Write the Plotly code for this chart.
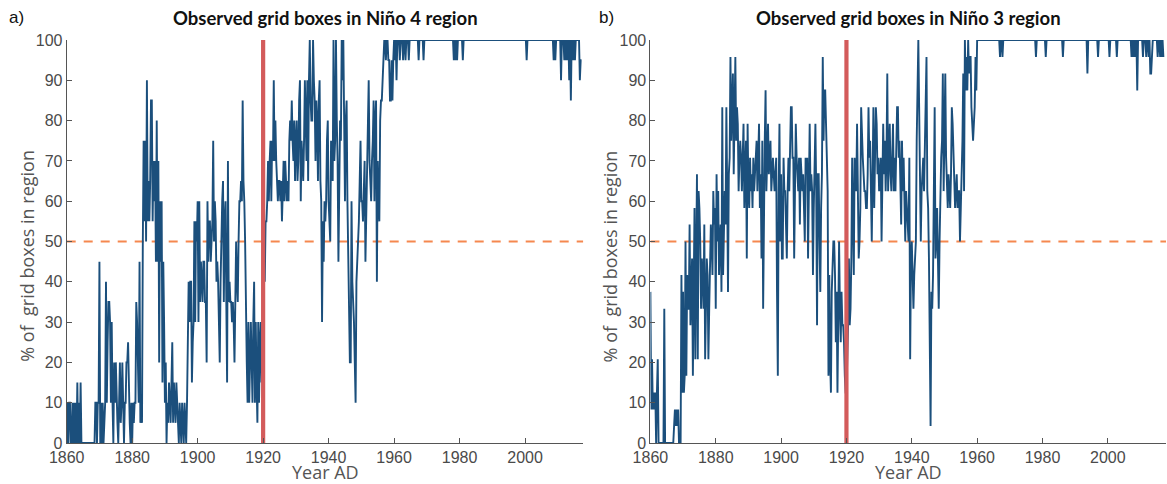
import plotly.graph_objects as go

# ---------------- data (quarterly samples) ----------------
START_YEAR = 1860.0
STEP = 0.25
THRESHOLD = 50
REF_YEAR = 1920
X_RANGE = [1860, 2017.8]
X_TICKS = [1860, 1880, 1900, 1920, 1940, 1960, 1980, 2000]
Y_TICKS = [0, 10, 20, 30, 40, 50, 60, 70, 80, 90, 100]

# Nino 4: % of observed grid boxes, one row per year (Q1..Q4)
NINO4_ROWS = [
    [0, 10, 0, 10],      # 1860
    [10, 0, 0, 10],      # 1861
    [0, 10, 0, 10],      # 1862
    [0, 15, 0, 10],      # 1863
    [0, 15, 0, 0],       # 1864
    [0, 0, 0, 0],        # 1865
    [0, 0, 0, 0],        # 1866
    [0, 0, 0, 0],        # 1867
    [0, 0, 0, 10],       # 1868
    [10, 0, 10, 10],     # 1869
    [45, 0, 10, 0],      # 1870
    [10, 0, 5, 10],      # 1871
    [40, 10, 25, 35],    # 1872
    [35, 30, 10, 30],    # 1873
    [10, 0, 20, 10],     # 1874
    [20, 10, 5, 0],      # 1875
    [10, 20, 5, 10],     # 1876
    [20, 10, 0, 10],     # 1877
    [10, 20, 20, 25],    # 1878
    [10, 5, 0, 10],      # 1879
    [0, 10, 5, 10],      # 1880
    [10, 35, 30, 15],    # 1881
    [10, 45, 5, 10],     # 1882
    [5, 50, 75, 55],     # 1883
    [75, 50, 90, 55],    # 1884
    [65, 55, 65, 85],    # 1885
    [85, 55, 70, 60],    # 1886
    [70, 45, 80, 45],    # 1887
    [70, 20, 60, 45],    # 1888
    [60, 15, 45, 30],    # 1889
    [10, 20, 0, 10],     # 1890
    [5, 15, 10, 5],      # 1891
    [15, 25, 5, 15],     # 1892
    [10, 5, 15, 10],     # 1893
    [5, 0, 10, 5],       # 1894
    [0, 10, 5, 0],       # 1895
    [10, 5, 0, 10],      # 1896
    [35, 40, 30, 40],    # 1897
    [40, 15, 25, 30],    # 1898
    [55, 30, 55, 50],    # 1899
    [60, 30, 60, 35],    # 1900
    [45, 40, 35, 45],    # 1901
    [45, 35, 35, 20],    # 1902
    [60, 45, 55, 55],    # 1903
    [45, 50, 55, 75],    # 1904
    [50, 60, 55, 40],    # 1905
    [45, 40, 30, 20],    # 1906
    [40, 55, 60, 65],    # 1907
    [35, 55, 60, 35],    # 1908
    [15, 70, 35, 40],    # 1909
    [35, 35, 30, 35],    # 1910
    [30, 20, 35, 50],    # 1911
    [40, 35, 50, 60],    # 1912
    [60, 65, 60, 85],    # 1913
    [65, 60, 50, 30],    # 1914
    [20, 10, 30, 10],    # 1915
    [25, 30, 20, 10],    # 1916
    [30, 40, 10, 30],    # 1917
    [15, 5, 30, 10],     # 1918
    [25, 30, 15, 30],    # 1919
    [40, 50, 40, 55],    # 1920
    [55, 60, 70, 60],    # 1921
    [70, 75, 60, 75],    # 1922
    [70, 90, 70, 80],    # 1923
    [70, 65, 60, 65],    # 1924
    [65, 60, 65, 55],    # 1925
    [65, 70, 60, 70],    # 1926
    [65, 60, 65, 60],    # 1927
    [75, 80, 75, 85],    # 1928
    [75, 70, 80, 65],    # 1929
    [75, 80, 65, 70],    # 1930
    [85, 90, 60, 75],    # 1931
    [70, 65, 75, 90],    # 1932
    [80, 70, 90, 65],    # 1933
    [90, 100, 85, 80],   # 1934
    [80, 100, 90, 85],   # 1935
    [70, 85, 80, 65],    # 1936
    [85, 90, 65, 60],    # 1937
    [30, 55, 45, 60],    # 1938
    [55, 60, 75, 80],    # 1939
    [60, 55, 50, 75],    # 1940
    [70, 65, 100, 70],   # 1941
    [75, 100, 80, 70],   # 1942
    [45, 60, 80, 75],    # 1943
    [100, 90, 100, 80],  # 1944
    [60, 80, 85, 60],    # 1945
    [45, 40, 20, 20],    # 1946
    [60, 40, 35, 30],    # 1947
    [20, 10, 40, 45],    # 1948
    [50, 55, 65, 75],    # 1949
    [60, 60, 55, 65],    # 1950
    [70, 45, 55, 65],    # 1951
    [80, 90, 70, 65],    # 1952
    [60, 70, 75, 85],    # 1953
    [60, 80, 85, 40],    # 1954
    [70, 60, 55, 80],    # 1955
    [85, 85, 90, 95],    # 1956
    [100, 100, 95, 100], # 1957
    [100, 95, 95, 85],   # 1958
    [85, 95, 85, 95],    # 1959
    [100, 95, 100, 90],  # 1960
    [100, 100, 100, 95], # 1961
    [100, 100, 100, 95], # 1962
    [100, 100, 95, 100], # 1963
    [100, 100, 95, 100], # 1964
    [100, 100, 100, 100],  # 1965
    [100, 100, 100, 100],  # 1966
    [100, 100, 95, 100],   # 1967
    [100, 100, 100, 100],  # 1968
    [95, 100, 100, 100],   # 1969
    [100, 100, 100, 100],  # 1970
    [100, 100, 100, 100],  # 1971
    [100, 100, 100, 100],  # 1972
    [100, 100, 100, 100],  # 1973
    [100, 100, 100, 100],  # 1974
    [100, 100, 100, 100],  # 1975
    [100, 100, 100, 100],  # 1976
    [100, 100, 100, 100],  # 1977
    [100, 95, 100, 95],    # 1978
    [100, 95, 100, 100],   # 1979
    [100, 100, 100, 100],  # 1980
    [95, 100, 100, 100],   # 1981
    [100, 100, 100, 100],  # 1982
    [100, 100, 100, 100],  # 1983
    [100, 100, 100, 100],  # 1984
    [100, 100, 100, 100],  # 1985
    [100, 100, 100, 100],  # 1986
    [100, 100, 100, 100],  # 1987
    [100, 100, 100, 100],  # 1988
    [100, 100, 100, 100],  # 1989
    [100, 100, 100, 100],  # 1990
    [100, 100, 100, 100],  # 1991
    [100, 100, 100, 100],  # 1992
    [100, 100, 100, 100],  # 1993
    [100, 100, 100, 100],  # 1994
    [100, 100, 100, 100],  # 1995
    [100, 100, 100, 100],  # 1996
    [100, 100, 100, 100],  # 1997
    [100, 100, 100, 100],  # 1998
    [100, 100, 100, 100],  # 1999
    [100, 100, 95, 100],   # 2000
    [100, 100, 100, 100],  # 2001
    [100, 100, 100, 100],  # 2002
    [100, 100, 100, 100],  # 2003
    [100, 100, 100, 100],  # 2004
    [100, 100, 100, 100],  # 2005
    [100, 100, 100, 100],  # 2006
    [100, 100, 100, 100],  # 2007
    [100, 100, 100, 95],   # 2008
    [100, 95, 100, 100],   # 2009
    [100, 100, 100, 100],  # 2010
    [90, 100, 100, 100],   # 2011
    [95, 100, 95, 100],    # 2012
    [95, 100, 90, 100],    # 2013
    [85, 100, 100, 95],    # 2014
    [100, 95, 100, 100],   # 2015
    [100, 100, 100, 90],   # 2016
    [95, 95],              # 2017
]

# Nino 3: % of observed grid boxes, one row per year (Q1..Q4)
NINO3_ROWS = [
    [37.5, 8.3, 20.8, 8.3],     # 1860
    [12.5, 8.3, 12.5, 0],       # 1861
    [12.5, 20.8, 0, 0],         # 1862
    [0, 0, 0, 0],               # 1863
    [0, 33.3, 0, 0],            # 1864
    [0, 0, 0, 0],               # 1865
    [0, 0, 0, 0],               # 1866
    [0, 4.2, 8.3, 4.2],         # 1867
    [8.3, 4.2, 8.3, 0],         # 1868
    [0, 0, 41.7, 12.5],         # 1869
    [37.5, 12.5, 16.7, 50],     # 1870
    [16.7, 41.7, 33.3, 33.3],   # 1871
    [54.2, 29.2, 37.5, 45.8],   # 1872
    [16.7, 41.7, 58.3, 20.8],   # 1873
    [41.7, 66.7, 20.8, 62.5],   # 1874
    [58.3, 50, 33.3, 45.8],     # 1875
    [41.7, 33.3, 54.2, 20.8],   # 1876
    [33.3, 45.8, 41.7, 20.8],   # 1877
    [33.3, 41.7, 54.2, 50],     # 1878
    [41.7, 62.5, 54.2, 58.3],   # 1879
    [33.3, 66.7, 50, 62.5],     # 1880
    [41.7, 50, 54.2, 37.5],     # 1881
    [83.3, 41.7, 50, 62.5],     # 1882
    [54.2, 83.3, 62.5, 37.5],   # 1883
    [66.7, 70.8, 95.8, 75],     # 1884
    [83.3, 91.7, 66.7, 79.2],   # 1885
    [95.8, 75, 83.3, 79.2],     # 1886
    [62.5, 70.8, 75, 70.8],     # 1887
    [62.5, 70.8, 79.2, 58.3],   # 1888
    [66.7, 75, 45.8, 79.2],     # 1889
    [62.5, 58.3, 70.8, 62.5],   # 1890
    [66.7, 58.3, 70.8, 62.5],   # 1891
    [66.7, 70.8, 75, 62.5],     # 1892
    [70.8, 79.2, 58.3, 66.7],   # 1893
    [45.8, 75, 33.3, 62.5],     # 1894
    [75, 87.5, 62.5, 70.8],     # 1895
    [79.2, 66.7, 70.8, 75],     # 1896
    [62.5, 66.7, 70.8, 66.7],   # 1897
    [62.5, 66.7, 70.8, 37.5],   # 1898
    [16.7, 62.5, 79.2, 50],     # 1899
    [66.7, 45.8, 45.8, 70.8],   # 1900
    [62.5, 62.5, 54.2, 45.8],   # 1901
    [62.5, 70.8, 62.5, 70.8],   # 1902
    [83.3, 83.3, 70.8, 70.8],   # 1903
    [45.8, 62.5, 79.2, 70.8],   # 1904
    [66.7, 62.5, 70.8, 54.2],   # 1905
    [70.8, 66.7, 62.5, 66.7],   # 1906
    [58.3, 50, 70.8, 66.7],     # 1907
    [70.8, 45.8, 62.5, 79.2],   # 1908
    [62.5, 66.7, 62.5, 41.7],   # 1909
    [58.3, 75, 79.2, 62.5],     # 1910
    [29.2, 66.7, 66.7, 50],     # 1911
    [37.5, 58.3, 66.7, 95.8],   # 1912
    [75, 87.5, 87.5, 79.2],     # 1913
    [70.8, 62.5, 16.7, 41.7],   # 1914
    [20.8, 12.5, 37.5, 45.8],   # 1915
    [50, 50, 41.7, 25],         # 1916
    [37.5, 12.5, 41.7, 50],     # 1917
    [33.3, 25, 37.5, 29.2],     # 1918
    [29.2, 25, 16.7, 12.5],     # 1919
    [12.5, 20.8, 29.2, 45.8],   # 1920
    [29.2, 33.3, 45.8, 70.8],   # 1921
    [50, 41.7, 70.8, 66.7],     # 1922
    [62.5, 79.2, 66.7, 45.8],   # 1923
    [50, 58.3, 83.3, 75],       # 1924
    [70.8, 66.7, 62.5, 62.5],   # 1925
    [58.3, 58.3, 66.7, 83.3],   # 1926
    [70.8, 75, 62.5, 50],       # 1927
    [66.7, 83.3, 58.3, 70.8],   # 1928
    [83.3, 79.2, 66.7, 70.8],   # 1929
    [62.5, 66.7, 70.8, 50],     # 1930
    [66.7, 79.2, 66.7, 75],     # 1931
    [62.5, 70.8, 91.7, 62.5],   # 1932
    [70.8, 79.2, 66.7, 62.5],   # 1933
    [70.8, 79.2, 62.5, 70.8],   # 1934
    [62.5, 75, 83.3, 83.3],     # 1935
    [70.8, 75, 66.7, 54.2],     # 1936
    [75, 62.5, 70.8, 62.5],     # 1937
    [50, 62.5, 58.3, 54.2],     # 1938
    [50, 70.8, 20.8, 45.8],     # 1939
    [50, 41.7, 33.3, 41.7],     # 1940
    [45.8, 50, 75, 91.7],       # 1941
    [100, 83.3, 62.5, 50],      # 1942
    [62.5, 66.7, 70.8, 62.5],   # 1943
    [75, 79.2, 95.8, 62.5],     # 1944
    [58.3, 45.8, 20.8, 4.2],    # 1945
    [37.5, 33.3, 41.7, 62.5],   # 1946
    [83.3, 45.8, 50, 58.3],     # 1947
    [45.8, 33.3, 50, 62.5],     # 1948
    [70.8, 75, 91.7, 62.5],     # 1949
    [75, 91.7, 70.8, 62.5],     # 1950
    [58.3, 66.7, 62.5, 58.3],   # 1951
    [66.7, 83.3, 79.2, 70.8],   # 1952
    [66.7, 58.3, 62.5, 66.7],   # 1953
    [58.3, 62.5, 62.5, 50],     # 1954
    [58.3, 66.7, 75, 91.7],     # 1955
    [62.5, 100, 87.5, 95.8],    # 1956
    [87.5, 100, 91.7, 95.8],    # 1957
    [95.8, 83.3, 79.2, 75],     # 1958
    [79.2, 83.3, 95.8, 87.5],   # 1959
    [100, 100, 100, 100],       # 1960
    [100, 100, 100, 100],       # 1961
    [100, 100, 100, 100],       # 1962
    [100, 100, 100, 100],       # 1963
    [100, 100, 100, 100],       # 1964
    [100, 100, 100, 100],       # 1965
    [100, 100, 100, 100],       # 1966
    [95.8, 100, 100, 95.8],     # 1967
    [100, 100, 100, 100],       # 1968
    [100, 100, 100, 100],       # 1969
    [100, 100, 100, 100],       # 1970
    [100, 100, 100, 100],       # 1971
    [100, 100, 100, 100],       # 1972
    [100, 100, 100, 100],       # 1973
    [100, 100, 100, 100],       # 1974
    [100, 100, 100, 100],       # 1975
    [100, 100, 100, 100],       # 1976
    [100, 100, 100, 100],       # 1977
    [95.8, 100, 100, 100],      # 1978
    [100, 100, 100, 100],       # 1979
    [100, 100, 100, 100],       # 1980
    [95.8, 100, 100, 100],      # 1981
    [100, 100, 100, 100],       # 1982
    [100, 100, 100, 100],       # 1983
    [100, 100, 100, 100],       # 1984
    [100, 100, 100, 100],       # 1985
    [100, 95.8, 100, 100],      # 1986
    [100, 100, 100, 100],       # 1987
    [100, 100, 100, 100],       # 1988
    [100, 100, 100, 100],       # 1989
    [100, 100, 100, 100],       # 1990
    [100, 100, 100, 100],       # 1991
    [100, 100, 100, 100],       # 1992
    [100, 100, 100, 91.7],      # 1993
    [100, 100, 100, 100],       # 1994
    [100, 100, 100, 100],       # 1995
    [100, 100, 100, 100],       # 1996
    [95.8, 100, 100, 100],      # 1997
    [100, 100, 100, 100],       # 1998
    [100, 100, 100, 100],       # 1999
    [100, 100, 95.8, 100],      # 2000
    [100, 100, 100, 100],       # 2001
    [100, 100, 100, 95.8],      # 2002
    [100, 100, 100, 100],       # 2003
    [100, 100, 100, 100],       # 2004
    [100, 100, 100, 100],       # 2005
    [100, 100, 100, 100],       # 2006
    [100, 95.8, 100, 95.8],     # 2007
    [100, 95.8, 100, 100],      # 2008
    [87.5, 100, 100, 100],      # 2009
    [100, 100, 100, 95.8],      # 2010
    [100, 100, 100, 95.8],      # 2011
    [100, 100, 95.8, 100],      # 2012
    [91.7, 91.7, 95.8, 100],    # 2013
    [100, 100, 100, 100],       # 2014
    [100, 95.8, 100, 100],      # 2015
    [95.8, 100, 95.8, 100],     # 2016
    [95.8],                     # 2017
]

TITLES = ["Observed grid boxes in Niño 4 region", "Observed grid boxes in Niño 3 region"]
PANEL_LABELS = ["a)", "b)"]
X_TITLE = "Year AD"
Y_TITLE = "% of  grid boxes in region"

# ---------------- styling ----------------
W, H = 1167, 484
BLUE = "#1b4f7c"
RED = "#d35b5b"
ORANGE = "#f5884f"
AXIS_COL = "#555555"
TICK_FONT = dict(family="Liberation Sans, Arial, sans-serif", size=16, color="#4a4a4a")
LABEL_FONT = dict(family="Open Sans, Lato, sans-serif", size=18, color="#555555")
TITLE_FONT = dict(family="Lato, Open Sans, sans-serif", size=18.5, color="#111111")

PLOT_TOP, PLOT_BOTTOM = 40, 443
PANELS_PX = [(66.7, 583.3), (650.4, 1166.0)]


def flatten(rows):
    return [v for row in rows for v in row]


def years_for(values):
    return [START_YEAR + i * STEP for i in range(len(values))]


fig = go.Figure()
series = [flatten(NINO4_ROWS), flatten(NINO3_ROWS)]
ydom = [(H - PLOT_BOTTOM) / H, (H - PLOT_TOP) / H]

for i, vals in enumerate(series):
    xa = "x" if i == 0 else "x2"
    ya = "y" if i == 0 else "y2"
    fig.add_trace(go.Scatter(x=X_RANGE, y=[THRESHOLD, THRESHOLD], mode="lines",
                             line=dict(color=ORANGE, width=2.2, dash="9px,8px"),
                             xaxis=xa, yaxis=ya, hoverinfo="skip", showlegend=False))
    fig.add_trace(go.Scatter(x=years_for(vals), y=vals, mode="lines",
                             line=dict(color=BLUE, width=1.9),
                             xaxis=xa, yaxis=ya, showlegend=False))
    fig.add_trace(go.Scatter(x=[REF_YEAR, REF_YEAR], y=[Y_TICKS[0], Y_TICKS[-1]], mode="lines",
                             line=dict(color=RED, width=4.2),
                             xaxis=xa, yaxis=ya, hoverinfo="skip", showlegend=False))

axis_common = dict(showline=True, linecolor=AXIS_COL, linewidth=1, ticks="inside", ticklen=5,
                   tickcolor=AXIS_COL, tickwidth=1, showgrid=False, zeroline=False,
                   tickfont=TICK_FONT, automargin=False)

layout = dict(width=W, height=H, margin=dict(l=0, r=0, t=0, b=0, pad=0, autoexpand=False),
              plot_bgcolor="white", paper_bgcolor="white", showlegend=False)
annotations = []
for i, (x0, x1) in enumerate(PANELS_PX):
    suffix = "" if i == 0 else "2"
    layout["xaxis" + suffix] = dict(axis_common, domain=[x0 / W, x1 / W], range=X_RANGE,
                                    tickvals=X_TICKS, anchor="y" + suffix)
    layout["yaxis" + suffix] = dict(axis_common, domain=ydom, range=[Y_TICKS[0], Y_TICKS[-1]],
                                    tickvals=Y_TICKS, anchor="x" + suffix)
    cx = (x0 + x1) / 2 / W
    annotations.append(dict(text="<b>" + TITLES[i] + "</b>", x=cx, y=(H - 18) / H, xref="paper",
                            yref="paper", showarrow=False, font=TITLE_FONT,
                            xanchor="center", yanchor="middle"))
    annotations.append(dict(text=PANEL_LABELS[i], x=(7 if i == 0 else 597) / W, y=(H - 18) / H,
                            xref="paper", yref="paper", showarrow=False,
                            font=dict(family="Liberation Sans, Arial", size=17, color="#111111"),
                            xanchor="left", yanchor="middle"))
    annotations.append(dict(text=X_TITLE, x=cx, y=(H - 472) / H, xref="paper", yref="paper",
                            showarrow=False, font=LABEL_FONT, xanchor="center", yanchor="middle",
                            borderpad=0))
    annotations.append(dict(text=Y_TITLE, x=(x0 - 40) / W, y=(H - 256) / H, xref="paper",
                            yref="paper", showarrow=False, font=LABEL_FONT, textangle=-90,
                            xanchor="center", yanchor="middle"))
layout["annotations"] = annotations
fig.update_layout(**layout)

fig.write_html("out.html")
